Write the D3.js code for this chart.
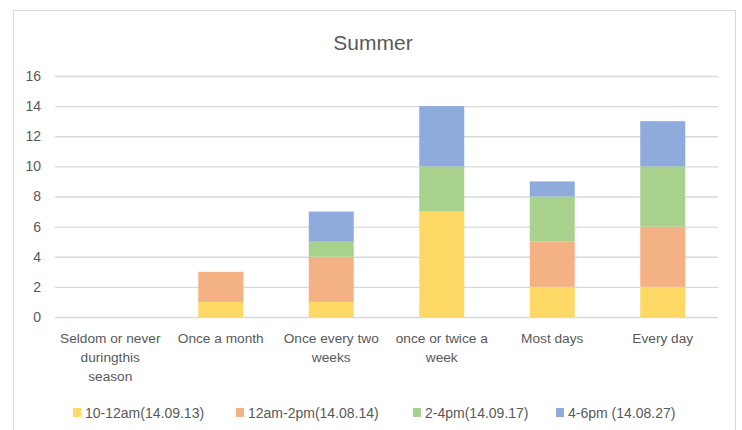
<!DOCTYPE html>
<html>
<head>
<meta charset="utf-8">
<script src="https://cdn.jsdelivr.net/npm/d3@7"></script>
<style>
  body { margin: 0; background: #fff; }
  text { font-family: 'Liberation Sans', Arial, sans-serif; fill: #595959; }
</style>
</head>
<body>
<script>
const width = 742;
const height = 430;

const categories = [
  ['Seldom or never', 'duringthis', 'season'],
  ['Once a month'],
  ['Once every two', 'weeks'],
  ['once or  twice a', 'week'],
  ['Most days'],
  ['Every day']
];
const seriesNames = ['10-12am(14.09.13)', '12am-2pm(14.08.14)', '2-4pm(14.09.17)', '4-6pm (14.08.27)'];
const morning = [0, 1, 1, 7, 2, 2];
const midday = [0, 2, 3, 0, 3, 4];
const afternoon = [0, 0, 1, 3, 3, 4];
const evening = [0, 0, 2, 4, 1, 3];
const yTicks = [0, 2, 4, 6, 8, 10, 12, 14, 16];

const colors = ['#ffd965', '#f4b183', '#a9d18e', '#8faadc'];

const svg = d3.select('body')
  .append('svg')
    .attr('width', width)
    .attr('height', height);

// chart frame
svg.append('rect')
  .attr('x', 13.5)
  .attr('y', 10.5)
  .attr('width', 722)
  .attr('height', 440)
  .attr('fill', 'none')
  .attr('stroke', '#d9d9d9');

svg.append('text')
  .attr('x', 373)
  .attr('y', 50)
  .attr('text-anchor', 'middle')
  .style('font-size', '21px')
  .text('Summer');

const table = categories.map((c, i) => ({
  key: i,
  s0: morning[i], s1: midday[i], s2: afternoon[i], s3: evening[i]
}));

const stack = d3.stack().keys(['s0', 's1', 's2', 's3'])(table);

const x = d3.scaleBand()
  .domain(d3.range(categories.length))
  .range([55, 718])
  .paddingInner(0.593)
  .paddingOuter(0.2965);

const y = d3.scaleLinear()
  .domain([0, 16])
  .range([317, 76]);

const yAxis = d3.axisLeft(y)
  .tickValues(yTicks)
  .tickSizeInner(-663)
  .tickSizeOuter(0)
  .tickPadding(14);

const axis = svg.append('g')
  .attr('transform', 'translate(55,0)')
  .call(yAxis);
axis.select('.domain').remove();
axis.selectAll('.tick line').attr('stroke', '#d9d9d9').attr('stroke-width', 1.3);
axis.selectAll('.tick text').style('font-size', '14px').attr('fill', '#595959');

svg.append('g')
  .selectAll('g')
  .data(stack)
  .enter()
    .append('g')
    .attr('fill', (d, i) => colors[i])
  .selectAll('rect')
  .data(d => d)
  .enter()
    .append('rect')
    .attr('x', d => x(d.data.key))
    .attr('width', x.bandwidth())
    .attr('y', d => y(d[1]))
    .attr('height', d => y(d[0]) - y(d[1]));

// category labels
const labels = svg.append('g');
categories.forEach((lines, i) => {
  const t = labels.append('text')
    .attr('text-anchor', 'middle')
    .style('font-size', '13.7px');
  lines.forEach((line, j) => {
    t.append('tspan')
      .attr('x', x(i) + x.bandwidth() / 2)
      .attr('y', 343 + j * 19)
      .text(line);
  });
});

// legend
const legendX = [73, 236, 413, 556];
const legend = svg.append('g');
seriesNames.forEach((name, i) => {
  legend.append('rect')
    .attr('x', legendX[i])
    .attr('y', 408)
    .attr('width', 8)
    .attr('height', 9)
    .attr('fill', colors[i]);
  legend.append('text')
    .attr('x', legendX[i] + 12)
    .attr('y', 417.5)
    .style('font-size', '14px')
    .text(name);
});
</script>
</body>
</html>
